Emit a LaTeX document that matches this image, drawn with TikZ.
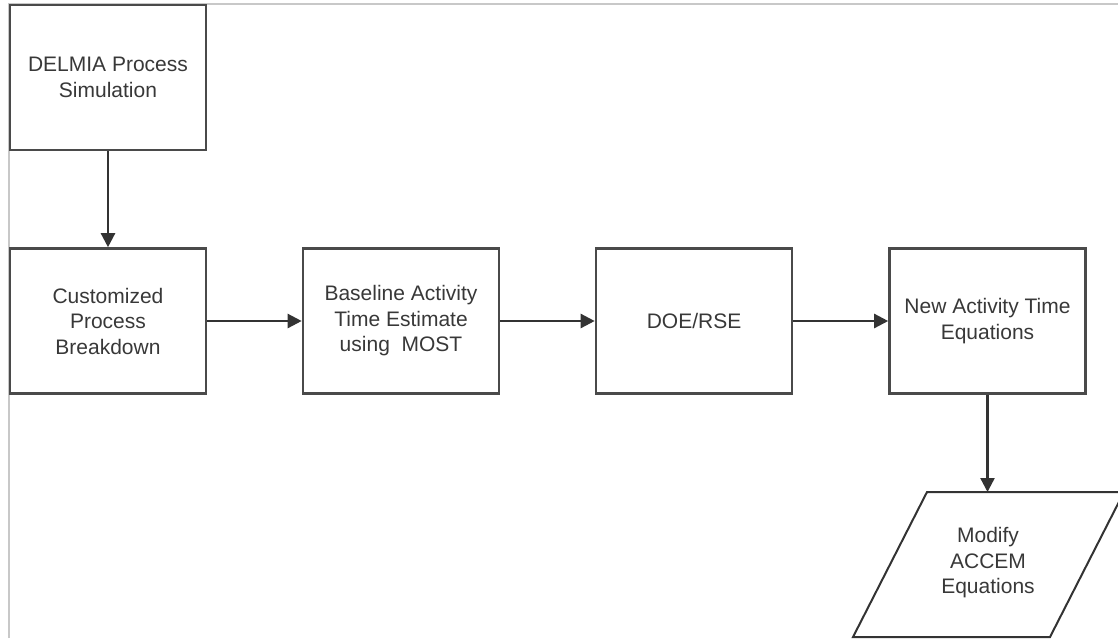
\documentclass[tikz,border=0pt]{standalone}
\usepackage{fontspec}
\setmainfont{Liberation Sans}
\usetikzlibrary{arrows.meta}
\definecolor{boxline}{HTML}{4A4A4A}
\definecolor{txtgrey}{HTML}{383838}
\definecolor{framegrey}{HTML}{C8C8C8}
\tikzset{
  procbox/.style={draw=boxline, line width=2.6pt, minimum width=196pt, minimum height=145pt,
    inner sep=0pt, align=center, text=txtgrey, font=\fontsize{21}{25.5}\selectfont},
  lbl/.style={align=center, text=txtgrey, font=\fontsize{21}{25.5}\selectfont, inner sep=0pt},
  flow/.style={draw=black!80, line width=2.4pt, -{Triangle[length=14pt,width=14pt]}},
  shapeline/.style={draw=black!80, line width=2pt, line join=miter}
}
\begin{document}
\begin{tikzpicture}[x=1pt,y=-1pt]
\useasboundingbox (0,0) rectangle (1118,638);
% background frame
\draw[framegrey, line width=1.5pt] (9,638) -- (9,4) -- (1118,4);
% boxes
\node[procbox, fill=white] (delmia) at (108,77.5) {DELMIA Process\\Simulation};
\node[procbox] (cust) at (108,321) {Customized\\Process\\Breakdown};
\node[procbox] (base) at (401,321) {Baseline Activity\\Time Estimate\\using~\ MOST};
\node[procbox] (doe) at (694,321) {DOE/RSE};
\node[procbox] (newact) at (987.5,321) {New Activity Time\\Equations};
% parallelogram
\draw[shapeline] (927,492) -- (1124,492) -- (1050,637) -- (853,637) -- cycle;
\coordinate (modtop) at (987.5,492);
\node[lbl] (modify) at (988,563) {Modify\\ACCEM\\Equations};
% connectors
\draw[flow] (delmia.south) -- (cust.north);
\draw[flow] (cust.east) -- (base.west);
\draw[flow] (base.east) -- (doe.west);
\draw[flow] (doe.east) -- (newact.west);
\draw[flow] (newact.south) -- (modtop);
\end{tikzpicture}
\end{document}
